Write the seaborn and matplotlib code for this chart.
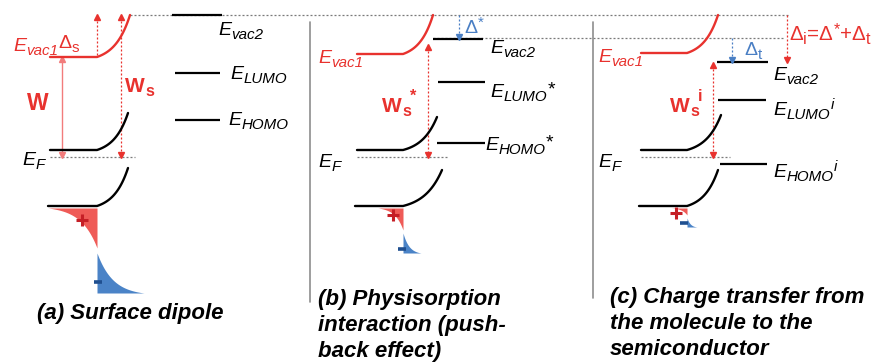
import numpy as np
import pandas as pd
import matplotlib
matplotlib.use("Agg")
import matplotlib.pyplot as plt
import seaborn as sns

sns.set_theme(style="white")
plt.rcParams["font.family"] = ["Liberation Sans", "DejaVu Sans"]

# ---- energy levels of the three cases (diagram units, larger = lower energy) ----
panels = ["a", "b", "c"]
vacuum_ref = 15                      # vacuum level of the clean surface
evac1_level = [57, 54, 53]           # E_vac1 far from the surface
evac2_level = [15, 39, 62]           # E_vac2 at the molecule
lumo_level = [73, 82, 100]
homo_level = [120, 143, 164]
fermi_level = 157
vb_level = [150, 150, 150]           # band edge near E_F
cb_level = [206, 206, 206]           # lower band edge
ef_bend_top = [113, 117, 115]
cb_bend_top = [168, 170, 170]
# surface charge (positive / negative lobes)
plus_depth = [40, 22, 7]
minus_depth = [40, 20, 9]
plus_width = [49, 25, 16]
minus_width = [47, 18, 10]

captions = [["(a) Surface dipole"],
            ["(b) Physisorption", "interaction (push-", "back effect)"],
            ["(c) Charge transfer from", "the molecule to the", "semiconductor"]]

RED = "#e8322e"
RED_FILL = "#ef5b57"
RED_DARK = "#c51f26"
RED_SOFT = "#f27c7c"
BLUE_FILL = "#4a83c7"
BLUE_DARK = "#1f4f90"
BLUE_TXT = "#4a7fc4"
GRAY = "#7a7a7a"
SEP = "#8e8e8e"

fig = plt.figure(figsize=(8.78, 3.62), dpi=100)
ax = fig.add_axes([0, 0, 1, 1])


def bend(x0, x1, y0, x2, y2, k=2.2, n=80):
    """Flat segment x0..x1 at y0 followed by an exponential rise to (x2, y2)."""
    t = np.linspace(0, 1, n)
    xs = np.concatenate([[x0], x1 + t * (x2 - x1)])
    ys = np.concatenate([[y0], y0 - (y0 - y2) * (np.exp(k * t) - 1) / (np.exp(k) - 1)])
    return xs, ys


curves = []


def add_curve(name, color, xs, ys):
    curves.append(pd.DataFrame({"x": xs, "y": ys, "curve": name, "color": color}))


def dotted(x0, y0, x1, y1, color=GRAY, lw=0.9):
    ax.plot([x0, x1], [y0, y1], color=color, lw=lw, ls=(0, (1.6, 1.6)),
            solid_capstyle="butt", zorder=1)


def varrow(x, ya, yb, color=RED, up=True, down=True, ls=(0, (1.6, 1.6)), lw=0.9):
    ax.plot([x, x], [ya + (2 if up else 0), yb - (2 if down else 0)], color=color,
            lw=lw, ls=ls, zorder=2)
    if up:
        ax.plot([x], [ya + 2], marker="^", ms=4.2, color=color, mec=color, zorder=3)
    if down:
        ax.plot([x], [yb - 2], marker="v", ms=4.2, color=color, mec=color, zorder=3)


def level(x0, x1, y):
    ax.plot([x0, x1], [y, y], color="black", lw=1.6, solid_capstyle="butt", zorder=3)


def rich(x, y, pieces, color="black", size=14, weight="normal", style="italic"):
    """Text made of base / subscript / superscript pieces written left to right.
    kinds: 'b' base, 'sub', 'sup' (small raised), 'supb' (full size raised),
    'sups' (small, raised high after a subscript)."""
    prev = None
    for txt, kind, *opt in pieces:
        st = opt[0] if opt else style
        small = kind in ("sub", "sup", "sups")
        fs = size * 0.78 if small else size
        dy = {"b": 0, "sub": -3.0, "sup": 4.5, "supb": 2.0, "sups": 8.0}[kind]
        kw = dict(color=color, fontsize=fs, fontweight=weight, fontstyle=st,
                  ha="left", va="baseline", zorder=6)
        if prev is None:
            t = ax.text(x, y, txt, **kw)
        else:
            gap = -0.6 if kind == "sups" else 0.3
            t = ax.annotate(txt, xy=(1, y), xycoords=(prev, "data"),
                            xytext=(gap, dy), textcoords="offset points", **kw)
        prev = t
    return prev


def elabel(x, y, sub, sup=None, color="black"):
    parts = [("E", "b"), (sub, "sub")]
    if sup == "*":
        parts.append(("*", "supb", "normal"))
    elif sup:
        parts.append((sup, "sup"))
    rich(x, y, parts, color=color)


# per-panel geometry
flat_start = [50, 357, 641]
flat_end = [97, 403, 687]
rise_end = [130, 433, 718]
ef_rise_end = [128, 437, 721]
cb_rise_end = [128, 442, 718]
dot_end = [135, 447, 730]
lvl_x = [(172, 222, 175, 220, 175, 220), (433, 483, 438, 485, 437, 485),
         (717, 768, 718, 766, 720, 767)]

# reference dotted lines
dotted(130, vacuum_ref, 790, vacuum_ref)
dotted(433, evac2_level[1] - 1, 783, evac2_level[1] - 1)

for i in range(3):
    x0, x1, x2 = flat_start[i], flat_end[i], rise_end[i]
    xs, ys = bend(x0, x1, evac1_level[i], x2, vacuum_ref)
    add_curve(f"vac{i}", RED, xs, ys)
    xs, ys = bend(x0, x1, vb_level[i], ef_rise_end[i], ef_bend_top[i])
    add_curve(f"vb{i}", "black", xs, ys)
    xs, ys = bend(x0 - 2, x1, cb_level[i], cb_rise_end[i], cb_bend_top[i])
    add_curve(f"cb{i}", "black", xs, ys)
    dotted(x0, fermi_level, dot_end[i], fermi_level)

    # molecular levels
    a0, a1, b0, b1, c0, c1 = lvl_x[i]
    level(a0, a1, evac2_level[i])
    level(b0, b1, lumo_level[i])
    level(c0, c1, homo_level[i])

    # surface charge lobes
    top = cb_level[i] + 2
    s = np.linspace(0, 1, 80)
    k = 3.0
    px = x1 - plus_width[i] + s * plus_width[i]
    pdep = plus_depth[i] * (np.exp(k * s) - 1) / (np.exp(k) - 1)
    ax.fill_between(px, top, top + pdep, color=RED_FILL, lw=0, zorder=2)
    gap = [5, 3, 3][i]
    mtop = top + plus_depth[i] + gap
    mbot = mtop + minus_depth[i]
    mx = x1 + s * minus_width[i]
    mh = minus_depth[i] * (np.exp(-k * s) - np.exp(-k)) / (1 - np.exp(-k))
    ax.fill_between(mx, mbot - mh, mbot, color=BLUE_FILL, lw=0, zorder=2)

band_df = pd.concat(curves, ignore_index=True)
for name, grp in band_df.groupby("curve", sort=False):
    sns.lineplot(data=grp, x="x", y="y", sort=False, estimator=None,
                 color=grp["color"].iloc[0], lw=1.7, ax=ax, legend=False, zorder=4)

# charge signs
for (x, y) in [(82, 220), (393, 215), (676, 213)]:
    ax.plot([x], [y], marker="+", ms=8, mew=2.2, color=RED_DARK, zorder=5)
for (x, y) in [(98, 282), (402, 249), (684, 223)]:
    ax.plot([x], [y], marker="_", ms=5.5, mew=2.6, color=BLUE_DARK, zorder=5)

# panel separators
ax.plot([310, 310], [22, 302], color=SEP, lw=1.2)
ax.plot([593, 593], [22, 298], color=SEP, lw=1.2)

# ---- panel (a) arrows and labels ----
varrow(62, evac1_level[0], fermi_level, color=RED_SOFT, ls="-", lw=1.0)
varrow(97, vacuum_ref, evac1_level[0], up=True, down=False)
varrow(121, vacuum_ref, fermi_level)
elabel(13, 51, "vac1", color=RED)
rich(58, 48, [("Δ", "b"), ("s", "sub")], color=RED, style="normal")
rich(27, 110, [("W", "b")], color=RED, size=16.5, weight="bold", style="normal")
rich(125, 92, [("W", "b"), ("s", "sub")], color=RED, size=15, weight="bold",
     style="normal")
elabel(218, 35, "vac2")
elabel(230, 79, "LUMO")
elabel(228, 125, "HOMO")
elabel(22, 165, "F")

# ---- panel (b) ----
varrow(459, vacuum_ref, evac2_level[1], color=BLUE_TXT, up=False, down=True)
varrow(428, 45, fermi_level)
elabel(318, 63, "vac1", color=RED)
rich(464, 33, [("Δ", "b"), ("*", "sup")], color=BLUE_TXT, style="normal")
elabel(490, 53, "vac2")
elabel(490, 97, "LUMO", "*")
elabel(485, 150, "HOMO", "*")
rich(382, 112, [("W", "b"), ("s", "sub"), ("*", "sups")], color=RED, size=15,
     weight="bold", style="normal")
elabel(318, 167, "F")

# ---- panel (c) ----
varrow(732, evac2_level[1] - 1, evac2_level[2], color=BLUE_TXT, up=False, down=True)
varrow(787, vacuum_ref, evac2_level[2], up=False, down=True)
varrow(713, evac2_level[2] + 1, fermi_level)
elabel(598, 62, "vac1", color=RED)
rich(744, 55, [("Δ", "b"), ("t", "sub")], color=BLUE_TXT, style="normal")
rich(789, 40, [("Δ", "b"), ("i", "sub"), ("=Δ", "b"), ("*", "sup"), ("+Δ", "b"),
               ("t", "sub")], color=RED, size=14.8, style="normal")
elabel(773, 80, "vac2")
elabel(773, 115, "LUMO", "i")
elabel(773, 177, "HOMO", "i")
rich(670, 112, [("W", "b"), ("s", "sub"), ("i", "sups")], color=RED, size=15,
     weight="bold", style="normal")
elabel(598, 167, "F")

# captions
cap_x = [37, 318, 610]
cap_y = [319, 305, 303]
for i, lines in enumerate(captions):
    for j, line in enumerate(lines):
        ax.text(cap_x[i], cap_y[i] + 26 * j, line, fontsize=16, fontweight="bold",
                fontstyle="italic", ha="left", va="baseline", color="black")

ax.set_xlim(0, 878)
ax.set_ylim(362, 0)
ax.axis("off")
fig.savefig("out.png", dpi=100)
